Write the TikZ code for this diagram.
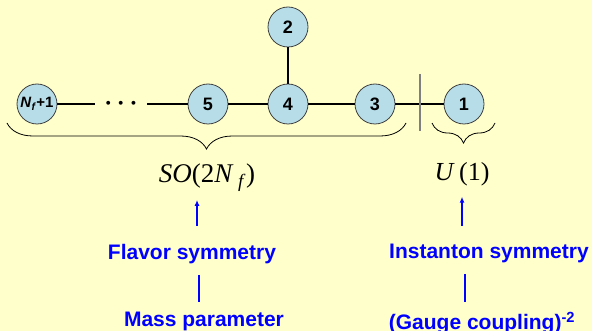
\documentclass[tikz,border=0pt]{standalone}
\usepackage{fontspec}
\setmainfont{Liberation Sans}
\newfontfamily\serifrm{Liberation Serif}
\usetikzlibrary{arrows.meta,positioning,decorations.pathreplacing}
\definecolor{paper}{HTML}{FFFFCC}
\definecolor{rootc}{HTML}{B7DEE8}
\definecolor{ring}{HTML}{404040}
\definecolor{flow}{HTML}{0000FF}
\definecolor{sepc}{HTML}{808080}

\tikzset{
  root/.style={circle,draw=ring,fill=rootc,line width=0.8pt,minimum size=40pt,inner sep=0pt,font=\fontsize{18}{18}\selectfont\bfseries},
  link/.style={line width=2pt},
  lbl/.style={text=flow,font=\fontsize{21}{24}\selectfont\bfseries,inner sep=0pt},
  grp/.style={decorate,decoration={brace,mirror,amplitude=#1},line width=0.8pt},
  uparrow/.style={flow,line width=2pt,-{Latex[length=6pt,width=5pt]}},
  bar/.style={flow,line width=2pt},
}

\begin{document}
\begin{tikzpicture}[x=1pt,y=-1pt]
  \fill[paper] (0,0) rectangle (592,331);
  \useasboundingbox (0,0) rectangle (592,331);
  % Dynkin nodes
  \node[root,font=\fontsize{15}{15}\selectfont\bfseries] (nf) at (37,104) {\textit{N}\textsubscript{\textit{f}}+1};
  \node[minimum width=52pt,inner sep=0pt,font=\boldmath\fontsize{28}{28}\selectfont] (dots) at (121,104) {$\cdots$};
  \node[root] (n5) at (208,104) {5};
  \node[root] (n4) at (288,104) {4};
  \node[root] (n2) at (288,27) {2};
  \node[root] (n3) at (375,104) {3};
  \node[root] (n1) at (464,104) {1};
  \coordinate (septop) at (420,74);
  \coordinate (sepbot) at (420,131);
  \draw[link] (nf) -- (dots) -- (n5) -- (n4) -- (n3) -- (n1);
  \draw[link] (n4) -- (n2);
  \draw[sepc,line width=1.5pt] (septop) -- (sepbot);
  % braces
  \draw[grp=26pt] (7,123) -- (406,123);
  \draw[grp=20pt] (432,123) -- (495,123);
  % groups
  \node[anchor=base,inner sep=0pt,font=\serifrm\fontsize{27}{27}\selectfont] (so) at (207,183) {\textit{SO}(2\textit{N}\,\textsubscript{\textit{f}})};
  \node[anchor=base,inner sep=0pt,font=\serifrm\fontsize{26}{26}\selectfont] (u1) at (462,181) {\textit{U}\,(1)};
  % labels
  \node[lbl,anchor=north] (flavor) at (192,244) {Flavor symmetry};
  \node[lbl,anchor=north] (mass) at (204,312) {Mass parameter};
  \node[lbl,anchor=north] (inst) at (489,244) {Instanton symmetry};
  \node[lbl,anchor=north] (gauge) at (482,312) {(Gauge coupling)\textsuperscript{-2}};
  \draw[uparrow] ([xshift=5pt,yshift=18pt]flavor.north) -- ([xshift=-10pt,yshift=-8pt]so.south);
  \draw[uparrow] ([xshift=-27pt,yshift=18pt]inst.north) -- ([yshift=-10pt]u1.south);
  \draw[bar,shorten <=11pt,shorten >=10pt] ([xshift=7pt]flavor.south) -- ([xshift=-5pt]mass.north);
  \draw[bar,shorten <=11pt,shorten >=10pt] ([xshift=-24pt]inst.south) -- ([xshift=-17pt]gauge.north);
\end{tikzpicture}
\end{document}
